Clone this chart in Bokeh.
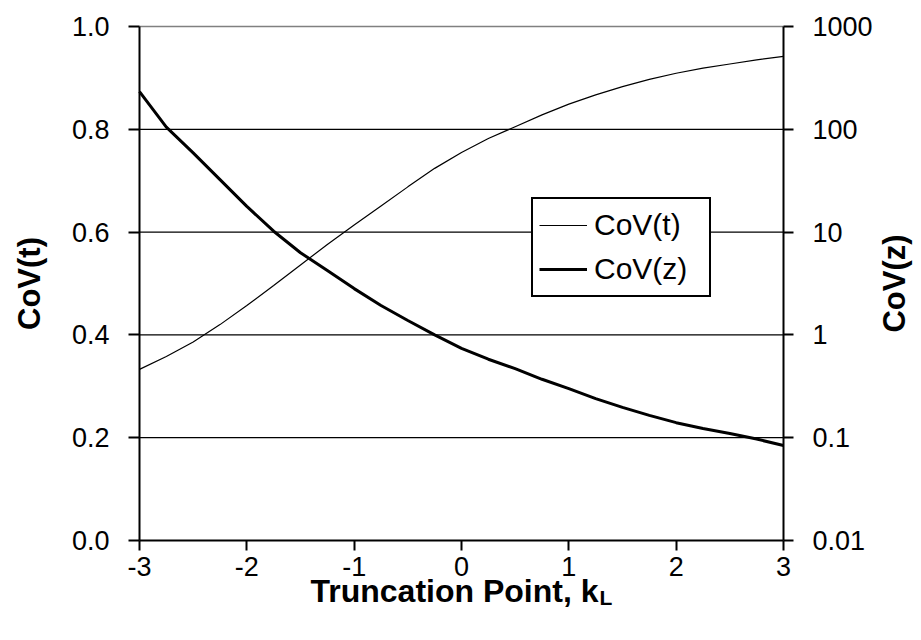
import math
from bokeh.plotting import figure
from bokeh.models import (Range1d, LogScale, LogAxis, LinearAxis, FixedTicker,
                          CustomJSTickFormatter, Legend, LegendItem, Label)
from bokeh.embed import file_html
from bokeh.resources import INLINE

# ---- data ----
k_values = [-3, -2.75, -2.5, -2.25, -2, -1.75, -1.5, -1.25, -1, -0.75, -0.5, -0.25,
            0, 0.25, 0.5, 0.75, 1, 1.25, 1.5, 1.75, 2, 2.25, 2.5, 2.75, 3]
cov_t = [0.333, 0.358, 0.386, 0.420, 0.457, 0.496, 0.536, 0.576, 0.614, 0.651, 0.688, 0.724,
         0.755, 0.782, 0.805, 0.828, 0.849, 0.867, 0.883, 0.897, 0.909, 0.919, 0.927, 0.935, 0.942]
cov_z = [233, 105, 58.9, 32.4, 17.8, 10.2, 6.3, 4.22, 2.82, 1.93, 1.38, 1.0,
         0.74, 0.58, 0.47, 0.37, 0.30, 0.24, 0.197, 0.165, 0.14, 0.123, 0.11, 0.097, 0.084]
x_ticks = [-3, -2, -1, 0, 1, 2, 3]
left_ticks = [0.0, 0.2, 0.4, 0.6, 0.8, 1.0]
grid_ticks = [0.2, 0.4, 0.6, 0.8]
right_ticks = [0.01, 0.1, 1, 10, 100, 1000]
series_names = ["CoV(t)", "CoV(z)"]
x_title = "Truncation Point, k"
x_title_sub = "L"

# ---- layout (pixels) ----
W, H = 921, 640
PX_L, PX_R = 139, 783      # x = -3 .. 3
PX_T, PX_B = 26, 540       # y = 1 .. 0

FONT = "Liberation Sans"
TICK_SIZE = "27px"
TITLE_SIZE = "31px"

x0, x1 = x_ticks[0], x_ticks[-1]
y0, y1 = left_ticks[0], left_ticks[-1]
z0, z1 = right_ticks[0], right_ticks[-1]
xpp = (x1 - x0) / (PX_R - PX_L)
ypp = (y1 - y0) / (PX_B - PX_T)
dpp = (math.log10(z1) - math.log10(z0)) / (PX_B - PX_T)

p = figure(width=W, height=H, output_backend="svg", toolbar_location=None,
           x_range=Range1d(x0 - PX_L * xpp, x1 + (W - PX_R) * xpp),
           y_range=Range1d(y0 - (H - PX_B) * ypp, y1 + PX_T * ypp),
           min_border_left=0, min_border_right=0, min_border_top=0, min_border_bottom=0,
           x_axis_location=None, y_axis_location=None)
p.extra_y_ranges = {"z": Range1d(10 ** (math.log10(z0) - (H - PX_B) * dpp),
                                 10 ** (math.log10(z1) + PX_T * dpp))}
p.extra_y_scales = {"z": LogScale()}

p.background_fill_color = "white"
p.border_fill_color = "white"
p.outline_line_color = None

# axes (fixed at the edges of the data area)
xaxis = LinearAxis(ticker=FixedTicker(ticks=x_ticks), fixed_location=y0, bounds=(x0, x1),
                   formatter=CustomJSTickFormatter(code="return tick.toFixed(0);"))
yaxis = LinearAxis(ticker=FixedTicker(ticks=left_ticks), fixed_location=x0, bounds=(y0, y1),
                   formatter=CustomJSTickFormatter(code="return tick.toFixed(1);"))
raxis = LogAxis(y_range_name="z", ticker=FixedTicker(ticks=right_ticks),
                fixed_location=x1, bounds=(z0, z1),
                formatter=CustomJSTickFormatter(code="return String(tick);"))

for ax in (xaxis, yaxis, raxis):
    ax.axis_line_color = "black"
    ax.axis_line_width = 2
    ax.major_tick_line_color = "black"
    ax.major_tick_line_width = 2
    ax.major_tick_in = 0
    ax.major_tick_out = 10
    ax.minor_tick_line_color = None
    ax.major_label_text_font = FONT
    ax.major_label_text_font_size = TICK_SIZE
    ax.major_label_text_color = "black"

xaxis.major_label_standoff = 6
yaxis.major_tick_out = 11
yaxis.major_label_standoff = 19
raxis.major_label_standoff = 19

p.add_layout(xaxis, "below")
p.add_layout(yaxis, "left")
p.add_layout(raxis, "right")

# grid lines only across the data area
p.xgrid.grid_line_color = None
p.ygrid.grid_line_color = None
p.segment(x0=[x0] * len(grid_ticks), x1=[x1] * len(grid_ticks), y0=grid_ticks, y1=grid_ticks,
          line_color="black", line_width=1.3)
p.segment(x0=[x0], x1=[x1], y0=[y1], y1=[y1], line_color="#808080", line_width=1.3)

# lines
r_t = p.line(k_values, cov_t, line_color="black", line_width=1.2)
r_z = p.line(k_values, cov_z, line_color="black", line_width=3, y_range_name="z")

legend = Legend(items=[LegendItem(label=series_names[0], renderers=[r_t]),
                       LegendItem(label=series_names[1], renderers=[r_z])],
                location=(531, H - 297), orientation="vertical",
                border_line_color="black", border_line_width=2, border_line_alpha=1,
                background_fill_color="white", background_fill_alpha=1,
                padding=6, spacing=4, margin=0,
                glyph_width=48, glyph_height=40, label_height=40, label_width=109,
                label_standoff=7,
                label_text_font=FONT, label_text_font_size="30px", label_text_color="black")
p.add_layout(legend, "center")

title_style = dict(text_font=FONT, text_font_style="bold", text_color="black")

# left and right axis titles (read bottom to top)
p.add_layout(Label(x=x0, y=(y0 + y1) / 2, x_offset=-110, angle=math.pi / 2, text=series_names[0],
                   text_align="center", text_baseline="middle", text_font_size=TITLE_SIZE,
                   **title_style))
p.add_layout(Label(x=x1, y=(y0 + y1) / 2, x_offset=111, angle=math.pi / 2, text=series_names[1],
                   text_align="center", text_baseline="middle", text_font_size=TITLE_SIZE,
                   **title_style))

# bottom axis title with subscript
p.add_layout(Label(x=0, y=y0, x_offset=137, y_offset=-50, text=x_title,
                   text_align="right", text_baseline="alphabetic", text_font_size="32px",
                   **title_style))
p.add_layout(Label(x=0, y=y0, x_offset=138, y_offset=-57, text=x_title_sub,
                   text_align="left", text_baseline="alphabetic", text_font_size="21px",
                   **title_style))

open("out.html", "w").write(file_html(p, INLINE))
